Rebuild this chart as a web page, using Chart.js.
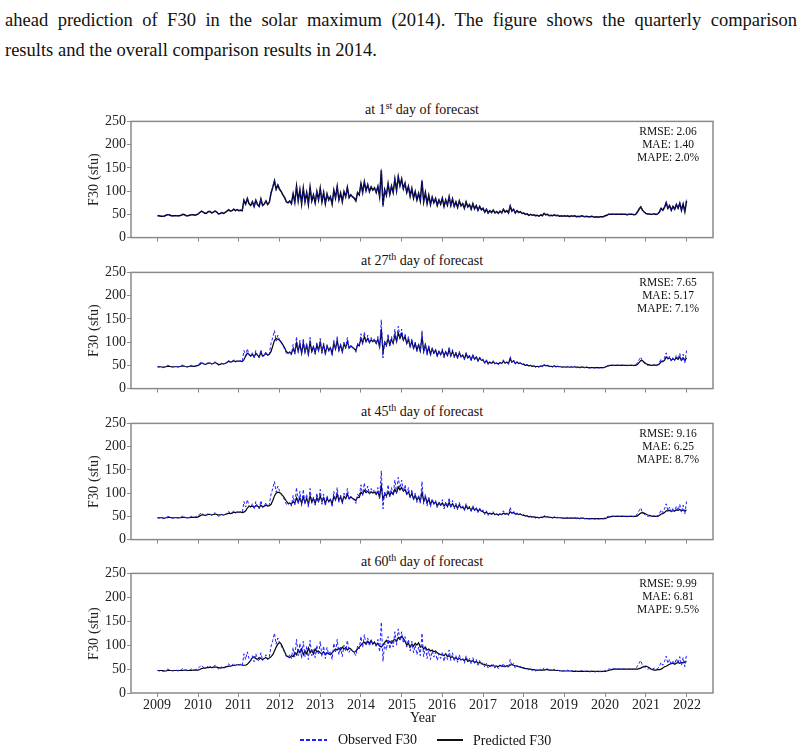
<!DOCTYPE html>
<html>
<head>
<meta charset="utf-8">
<script src="https://cdn.jsdelivr.net/npm/chart.js@4.4.0/dist/chart.umd.min.js"></script>
<style>
  @font-face { font-family: "PlotSerif"; src: local("Liberation Serif"), local("LiberationSerif"), local("Liberation Serif Regular"); }
  body { margin: 0; background: #fff; }
  #page { position: relative; width: 803px; height: 751px; overflow: hidden;
          font-family: "Liberation Serif", "Times New Roman", serif; color: #111; }
  .caption { position: absolute; left: 5px; width: 792px; font-size: 18.5px; line-height: 30px; white-space: nowrap; }
  .justify { text-align: justify; text-align-last: justify; white-space: normal; }
  canvas { position: absolute; left: 0; }
  .ptitle { position: absolute; left: 131px; width: 582px; text-align: center; font-size: 14px; line-height: 16px; }
  .ptitle sup { font-size: 10px; line-height: 0; vertical-align: 0; position: relative; top: -5px; }
  .metrics { position: absolute; left: 618px; width: 100px; text-align: center; font-size: 11.5px; line-height: 13px; }
  .txt { position: absolute; font-size: 14px; line-height: 16px; white-space: nowrap; }
  .swatch { position: absolute; height: 1.5px; }
</style>
</head>
<body>
<div id="page">
  <div class="caption justify" style="top:5px">ahead prediction of F30 in the solar maximum (2014). The figure shows the quarterly comparison</div>
  <div class="caption" style="top:35px">results and the overall comparison results in 2014.</div>
  <div id="panels"></div>
  <div class="txt" style="left:410px; top:710px">Year</div>
  <div class="swatch" style="left:300px; top:739px; width:27px; background: repeating-linear-gradient(to right, #1f1fff 0 4px, transparent 4px 6px);"></div>
  <div class="txt" style="left:338px; top:732px">Observed F30</div>
  <div class="swatch" style="left:437px; top:739px; width:26px; background:#111;"></div>
  <div class="txt" style="left:473px; top:733px">Predicted F30</div>
</div>
<script>
// 데이터: 2009.0 ~ 2022.0, 1년에 24개 (약 15일 간격)
const startYear = 2009;
const pointsPerYear = 24;
const yearTicks = [2009, 2010, 2011, 2012, 2013, 2014, 2015, 2016, 2017, 2018, 2019, 2020, 2021, 2022];
const fluxTicks = [0, 50, 100, 150, 200, 250];

const observedF30 = [
  47,46,47,45,46,48,50,49,47,46,47,48,46,47,49,51,48,47,46,48,50,49,48,50, // 2009
  52,55,58,54,51,53,57,56,52,55,58,54,50,52,55,51,54,58,61,56,58,62,57,60, // 2010
  58,60,57,82,70,86,72,68,78,65,82,70,66,84,68,72,80,70,76,98,110,125,102,115, // 2011
  105,98,92,85,76,74,80,72,95,75,112,78,104,72,108,76,98,70,110,78,92,74,100,80, // 2012
  108,76,98,72,95,80,88,70,104,84,112,80,96,76,100,88,110,85,92,88,84,78,98,92, // 2013
  118,95,122,100,115,98,110,102,108,96,112,86,148,66,104,90,118,92,112,96,128,100,134,110, // 2014
  128,104,118,96,112,88,108,84,100,80,96,78,125,76,98,72,92,70,88,75,85,68,82,72, // 2015
  86,66,82,70,90,68,84,66,78,64,80,68,74,62,78,66,72,60,74,62,70,58,68,60, // 2016
  64,54,62,52,58,53,60,52,56,51,58,53,62,54,58,52,70,56,62,52,58,54,56,51, // 2017
  54,50,52,48,50,47,49,46,48,46,50,47,53,49,51,47,48,46,50,47,48,46,47,46, // 2018
  47,46,48,45,47,46,48,45,46,45,47,46,45,46,45,44,46,45,44,45,44,45,44,45, // 2019
  47,49,50,50,51,50,50,51,50,50,51,50,50,49,50,51,50,49,50,56,62,68,58,55, // 2020
  52,50,51,49,50,52,50,51,56,64,58,66,77,62,70,58,68,60,72,62,76,58,74,55, // 2021
  82 // 2022
];

const predictedDay1 = [
  47,47,46,46,46,48,49,49,47,47,47,47,47,47,48,50,49,47,47,48,49,49,48,49,
  51,54,57,55,52,53,56,56,53,55,57,55,51,52,54,52,54,57,60,57,58,61,58,60,
  58,59,58,80,72,84,73,69,77,67,80,71,67,83,69,72,79,71,76,96,108,122,104,113,
  104,99,92,86,77,75,79,73,94,76,110,79,103,73,106,77,97,72,108,79,92,75,99,81,
  106,77,97,73,94,81,88,72,102,85,110,81,96,77,99,88,108,86,92,88,85,79,97,92,
  116,97,120,101,114,99,109,102,107,97,110,88,145,69,103,91,116,93,111,97,126,101,131,111,
  126,105,117,97,110,89,106,85,99,81,95,79,122,77,97,73,91,71,87,75,84,69,81,72,
  85,67,81,70,88,69,83,67,77,65,79,68,73,63,77,66,71,61,73,62,69,59,67,60,
  63,55,61,53,58,54,59,53,56,52,57,53,61,55,58,53,68,57,61,53,58,54,56,52,
  53,50,51,48,50,48,49,47,48,46,49,47,52,49,50,47,48,47,49,47,48,46,47,46,
  47,46,47,45,47,46,47,45,46,45,47,46,45,46,45,45,46,45,44,45,44,45,45,45,
  47,48,50,50,50,50,50,50,50,50,50,50,50,49,50,50,50,49,50,55,61,66,59,55,
  52,51,51,50,50,51,50,51,55,63,59,65,75,63,69,59,67,61,71,63,74,59,72,56,
  79
];

const predictedDay27 = [
  47,47,47,46,46,47,48,48,47,47,47,47,47,47,48,49,48,47,47,48,49,48,48,49,
  50,52,55,54,52,53,55,55,53,54,56,54,52,52,54,53,54,56,59,57,58,60,58,59,
  59,59,58,62,70,76,74,70,74,68,76,72,68,78,70,72,76,72,74,80,92,104,108,106,
  104,100,94,88,80,76,78,75,86,77,98,80,96,76,98,78,93,74,100,80,90,77,94,82,
  100,80,94,76,92,82,88,75,98,85,104,82,94,79,96,88,102,87,92,89,86,82,94,92,
  108,98,112,101,108,99,105,101,104,97,106,90,128,78,100,93,108,94,106,97,116,101,120,108,
  118,104,112,97,106,90,102,87,97,83,94,81,112,80,94,76,89,74,86,76,83,71,80,73,
  82,70,79,71,84,70,80,69,76,67,77,68,72,64,75,66,70,62,71,63,68,60,66,61,
  61,56,60,54,57,54,58,54,55,53,56,54,59,55,57,54,64,57,60,54,57,54,55,53,
  52,50,51,49,50,48,49,47,48,47,49,48,51,49,50,48,48,47,49,47,48,47,47,46,
  47,46,47,46,47,46,47,46,46,45,46,46,45,46,45,45,45,45,45,45,45,45,45,45,
  46,48,49,50,50,50,50,50,50,50,50,50,50,50,50,50,50,50,50,52,56,60,60,57,
  54,52,51,50,50,51,50,51,53,58,58,61,68,64,66,61,64,62,66,63,68,61,66,60,
  66
];

const predictedDay45 = [
  47,47,47,47,46,47,47,48,47,47,47,47,47,47,47,48,48,47,47,47,48,48,48,48,
  49,51,53,53,52,53,54,54,53,54,55,54,53,53,54,53,54,55,57,56,57,59,58,59,
  59,59,58,59,62,68,72,71,72,69,73,72,69,74,71,72,74,72,73,76,84,94,100,102,
  101,98,94,89,83,78,78,76,82,78,90,80,90,78,92,79,89,76,94,81,88,78,90,82,
  94,82,90,78,89,82,86,77,93,85,98,84,92,81,93,88,98,88,92,89,87,84,91,91,
  102,98,106,101,104,99,103,100,102,97,103,92,116,86,98,94,103,95,102,97,108,101,113,107,
  112,104,108,98,103,92,99,88,95,85,91,83,102,83,91,79,87,76,84,77,81,73,79,74,
  79,72,77,71,80,71,77,70,74,68,75,68,70,65,73,66,69,63,69,63,67,61,65,61,
  60,57,59,55,57,55,57,54,55,53,55,54,57,55,56,54,60,57,58,55,56,54,55,53,
  52,51,51,49,50,49,49,48,48,47,48,48,50,49,49,48,48,47,48,47,47,47,47,46,
  46,46,46,46,46,46,46,46,46,45,46,46,45,45,45,45,45,45,45,45,45,45,45,45,
  45,47,48,49,50,50,50,50,50,50,50,50,50,50,50,50,50,50,50,51,54,57,58,57,
  55,53,52,51,50,50,50,50,52,55,56,58,62,62,63,61,62,62,64,63,65,62,64,61,
  64
];

const predictedDay60 = [
  47,47,47,47,46,46,47,47,47,47,47,47,47,47,47,47,48,48,47,47,47,48,48,48,
  48,49,51,52,52,53,53,54,53,54,54,54,53,52,53,53,54,55,56,56,57,58,58,59,
  59,59,58,58,58,60,64,68,74,76,72,70,74,72,70,72,74,71,73,76,80,88,96,102,
  106,102,94,86,78,76,74,78,76,84,80,90,84,92,80,88,82,94,84,90,82,92,86,88,
  84,82,86,80,84,82,80,84,88,92,90,94,90,96,92,95,90,94,92,88,85,88,92,96,
  100,104,106,102,108,104,110,102,106,100,104,98,96,100,106,110,104,108,104,110,112,108,116,112,
  118,114,108,100,104,96,102,98,104,100,105,96,98,92,96,90,92,88,90,86,88,84,82,80,
  80,78,82,76,78,74,76,72,74,70,72,70,70,68,72,66,68,66,68,64,66,62,64,62,
  60,60,58,58,56,58,57,56,56,55,58,56,56,55,57,56,58,60,58,57,56,55,54,53,
  52,51,51,50,50,49,49,48,48,48,48,48,48,49,49,48,48,48,48,47,47,47,46,46,
  46,46,46,46,46,45,45,45,45,45,45,45,45,45,45,45,45,45,45,45,45,45,45,45,
  45,46,47,48,49,50,50,50,50,50,50,50,50,50,50,50,50,50,50,50,51,52,54,55,
  56,55,53,50,49,48,48,49,49,50,52,55,56,58,60,62,62,60,62,64,62,64,63,65,
  66
];

const forecastDays = [1, 27, 45, 60];
const daySuffixes = ["st", "th", "th", "th"];
const rmseValues = ["2.06", "7.65", "9.16", "9.99"];
const maeValues = ["1.40", "5.17", "6.25", "6.81"];
const mapeValues = ["2.0%", "7.1%", "8.7%", "9.5%"];
const predictedSeries = [predictedDay1, predictedDay27, predictedDay45, predictedDay60];

// 레이아웃
const panelTops = [120, 271, 422, 572];
const panelHeight = 121;
const padTop = 8;
const serif = "PlotSerif, 'Liberation Serif', serif";

Chart.defaults.font.family = serif;
Chart.defaults.font.size = 14;
Chart.defaults.color = "#222";

function toPoints(values) {
  return values.map((v, i) => ({ x: startYear + i / pointsPerYear, y: v }));
}

const framePlugin = {
  id: "frame",
  afterDraw(chart) {
    const { ctx, chartArea: a } = chart;
    ctx.save();
    ctx.strokeStyle = "#8a8a8a";
    ctx.lineWidth = 1.5;
    ctx.strokeRect(a.left, a.top, a.right - a.left, a.bottom - a.top);
    ctx.restore();
  },
};

const panels = document.getElementById("panels");
const canvases = [];

// 제목, 지표 텍스트, 캔버스 배치
forecastDays.forEach((day, p) => {
  const isLast = p === forecastDays.length - 1;
  const xAxisHeight = isLast ? 26 : 6;

  const title = document.createElement("div");
  title.className = "ptitle";
  title.style.top = (panelTops[p] - 18) + "px";
  title.innerHTML = "at " + day + "<sup>" + daySuffixes[p] + "</sup> day of forecast";
  panels.appendChild(title);

  const canvas = document.createElement("canvas");
  canvas.width = 803;
  canvas.height = padTop + panelHeight + xAxisHeight;
  canvas.style.top = (panelTops[p] - padTop) + "px";
  panels.appendChild(canvas);
  canvases.push(canvas);

  const metrics = document.createElement("div");
  metrics.className = "metrics";
  metrics.style.top = (panelTops[p] + 5) + "px";
  metrics.innerHTML = "RMSE: " + rmseValues[p] + "<br>MAE: " + maeValues[p] + "<br>MAPE: " + mapeValues[p];
  panels.appendChild(metrics);
});

function drawCharts() {
  forecastDays.forEach((day, p) => {
    const isLast = p === forecastDays.length - 1;
    const xAxisHeight = isLast ? 26 : 6;
    new Chart(canvases[p].getContext("2d"), {
      type: "line",
      data: {
        datasets: [
          {
            label: "Observed F30",
            data: toPoints(observedF30),
            borderColor: "#1f1fff",
            borderWidth: p === 0 ? 0.7 : 1,
            borderDash: [3, 2],
            pointRadius: 0,
            tension: 0,
          },
          {
            label: "Predicted F30",
            data: toPoints(predictedSeries[p]),
            borderColor: "#000000",
            borderWidth: p === 0 ? 1.5 : 1.2,
            pointRadius: 0,
            tension: 0,
          },
        ],
      },
      options: {
        responsive: false,
        animation: false,
        events: [],
        layout: { padding: { left: 84, right: 90, top: padTop, bottom: 0 } },
        plugins: { legend: { display: false }, tooltip: { enabled: false } },
        scales: {
          x: {
            type: "linear",
            min: 2008.35,
            max: 2022.65,
            afterBuildTicks: (s) => { s.ticks = yearTicks.map((v) => ({ value: v })); },
            afterFit: (s) => { s.height = xAxisHeight; },
            grid: { drawOnChartArea: false, drawTicks: true, tickLength: 4, color: "#8a8a8a" },
            border: { display: false },
            ticks: {
              display: isLast,
              autoSkip: false,
              maxRotation: 0,
              padding: 0,
              color: "#222",
              font: { family: serif, size: 14 },
              callback: (v) => String(v),
            },
          },
          y: {
            min: 0,
            max: 250,
            afterBuildTicks: (s) => { s.ticks = fluxTicks.map((v) => ({ value: v })); },
            afterFit: (s) => { s.width = 131 - 84; },
            grid: { drawOnChartArea: false, drawTicks: true, tickLength: 4, color: "#8a8a8a" },
            border: { display: false },
            ticks: { padding: 1, color: "#222", font: { family: serif, size: 14 }, callback: (v) => String(v) },
            title: {
              display: true, text: "F30 (sfu)", color: "#222",
              font: { family: serif, size: 14 }, padding: { top: 2, bottom: 2 },
            },
          },
        },
      },
      plugins: [framePlugin],
    });
  });
}

// 폰트가 준비된 뒤 그리기
if (document.fonts && document.fonts.load) {
  document.fonts.load("14px PlotSerif").then(drawCharts, drawCharts);
} else {
  drawCharts();
}
</script>
</body>
</html>
